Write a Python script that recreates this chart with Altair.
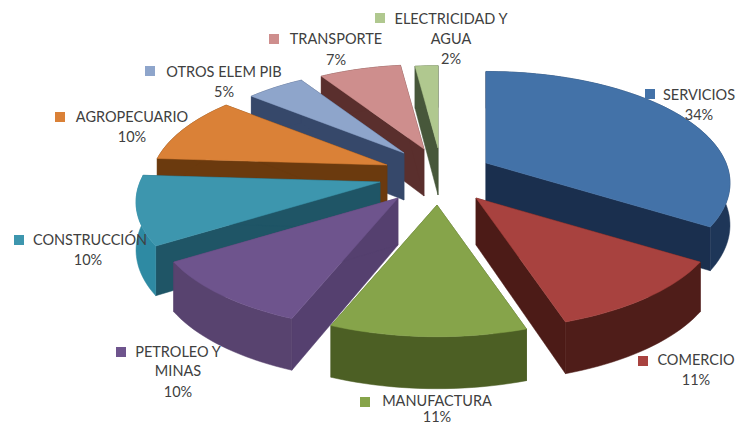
import math
import altair as alt
import pandas as pd

names = ["SERVICIOS", "COMERCIO", "MANUFACTURA", "PETROLEO Y MINAS", "CONSTRUCCIÓN",
         "AGROPECUARIO", "OTROS ELEM PIB", "TRANSPORTE", "ELECTRICIDAD Y AGUA"]
shares = [34, 11, 11, 10, 10, 10, 5, 7, 2]
top_colors = ["#4372a8", "#a8423f", "#86a44a", "#6e548d", "#3d96ae", "#da8137", "#8ea5cb", "#ce8e8d", "#b0c88f"]
side_colors = ["#1a2f4e", "#4c1b17", "#45561f", "#55406f", "#1f5566", "#6b3a0e", "#36486a", "#5a2f2d", "#47573a"]
wall_colors = ["#1e3658", "#4f1d19", "#4c5f24", "#58436f", "#2e8aa3", "#6b3a0e", "#36486a", "#5a2f2d", "#47573a"]
apex_x = [486, 476, 437, 398, 380, 387, 404, 424, 438]
apex_y = [163, 198, 205, 198, 182, 165, 153, 149, 148]
radius_factor = [1, 1, 1, 1, 1, 0.97, 0.92, 0.92, 0.9]
depth_factor = [0.88, 1, 1, 1, 1, 1, 1, 1, 1]
draw_order = [8, 7, 6, 5, 4, 3, 0, 1, 2]

label_lines = [["SERVICIOS", "34%"], ["COMERCIO", "11%"], ["MANUFACTURA", "11%"],
               ["PETROLEO Y", "MINAS", "10%"], ["CONSTRUCCIÓN", "10%"], ["AGROPECUARIO", "10%"],
               ["OTROS ELEM  PIB", "5%"], ["TRANSPORTE", "7%"], ["ELECTRICIDAD Y", "AGUA", "2%"]]
label_center_x = [[699, 699], [696, 696], [437, 437], [178, 178, 178], [90, 88], [132, 132],
                  [224, 224], [336, 336], [451, 451, 451]]
label_y = [[96, 116], [361, 381], [402, 418], [353, 372, 393], [241, 261], [118, 138],
           [73, 93], [40, 61], [20, 40, 60]]
swatch_x = [650, 643, 365, 121, 19, 60, 150, 274, 380]
swatch_y = [94, 361, 402, 352, 240, 117, 71, 39, 18]

RX, RY, K = 240.0, 108.0, 0.18


def project(ax, ay, theta, r, df):
    u, v = math.sin(theta), -math.cos(theta)
    p = 1.0 / (1.0 - K * v)
    return ax + RX * r * u * p, ay + RY * r * v * p, (47 + 5 * v) * df


rows = []
pid = 0


def add(points, fill):
    global pid
    for n, (x, y) in enumerate(points):
        rows.append({"poly": f"p{pid:03d}", "n": n, "x": x, "y": y, "fill": fill})
    pid += 1


edges = [0]
for s in shares:
    edges.append(edges[-1] + s)

for i in draw_order:
    a0 = edges[i] / 100 * 2 * math.pi
    a1 = edges[i + 1] / 100 * 2 * math.pi
    steps = max(3, int(shares[i] * 2))
    ax, ay, r, df = apex_x[i], apex_y[i], radius_factor[i], depth_factor[i]
    arc = [project(ax, ay, a0 + (a1 - a0) * t / steps, r, df) for t in range(steps + 1)]
    top = [(x, y) for x, y, _ in arc]
    low = [(x, y + d) for x, y, d in arc]
    base = (ax, ay + 47 * df)
    add([(ax, ay), top[0], low[0], base], side_colors[i])
    add([(ax, ay), top[-1], low[-1], base], side_colors[i])
    add(top + low[::-1], wall_colors[i])
    add([(ax, ay)] + top, top_colors[i])

polys = pd.DataFrame(rows)

labels = pd.DataFrame([
    {"text": t, "x": cx, "y": ly}
    for lines, xs, ys in zip(label_lines, label_center_x, label_y)
    for t, cx, ly in zip(lines, xs, ys)
])
swatches = pd.DataFrame({"x": swatch_x, "y": swatch_y, "fill": top_colors, "name": names})

xs = alt.X("x:Q", scale=alt.Scale(domain=[8, 736], nice=False, zero=False), axis=None)
ys = alt.Y("y:Q", scale=alt.Scale(domain=[425, 8], nice=False, zero=False), axis=None)

slices = alt.Chart(polys).mark_line(filled=True, strokeWidth=0.5, interpolate="linear-closed").encode(
    x=xs, y=ys,
    detail="poly:N",
    order="n:Q",
    fill=alt.Fill("fill:N", scale=None),
    stroke=alt.Stroke("fill:N", scale=None),
)
swatch_marks = alt.Chart(swatches).mark_square(size=100, opacity=1).encode(
    x=xs, y=ys, fill=alt.Fill("fill:N", scale=None), stroke=alt.value(None)
)
texts = alt.Chart(labels).mark_text(font="Lato", fontSize=14.5, color="#404040", align="center", baseline="middle").encode(
    x=xs, y=ys, text="text:N"
)

chart = (slices + swatch_marks + texts).properties(
    width=728, height=417, padding=0, background="white",
    autosize=alt.AutoSizeParams(type="none"),
).configure_view(stroke=None)

chart.save("out.html", embed_options={"renderer": "svg", "actions": False})
